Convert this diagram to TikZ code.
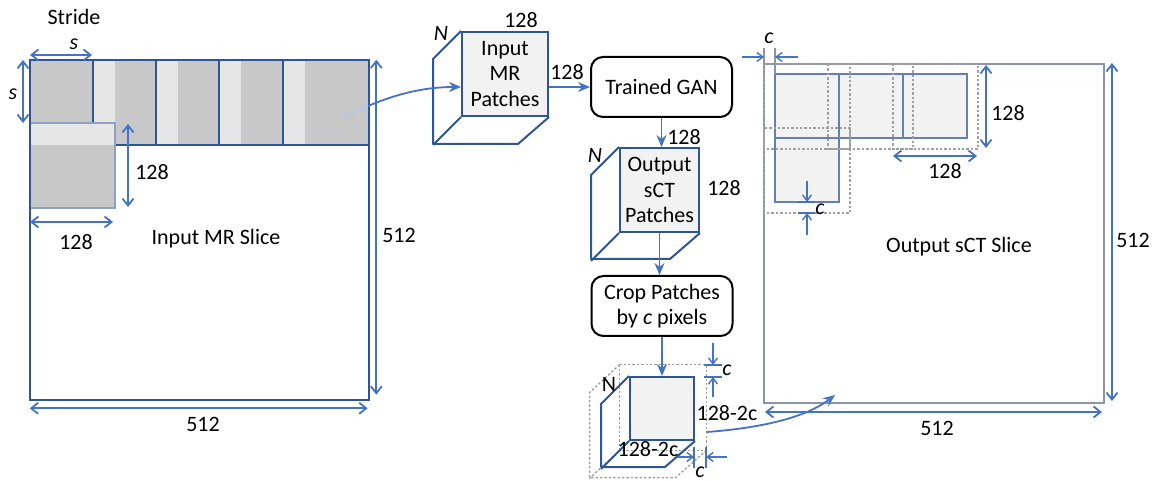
\documentclass[tikz,border=0pt]{standalone}
\usepackage{fontspec}
\setmainfont{Carlito}
\usetikzlibrary{arrows.meta,fit,calc}
\definecolor{arrblue}{HTML}{4472C4}
\definecolor{boxblue}{HTML}{2F5597}
\definecolor{patchdark}{HTML}{C8C8C8}
\definecolor{patchlight}{HTML}{E6E6E6}
\definecolor{facefill}{HTML}{F2F2F2}
\definecolor{slicegray}{HTML}{8C95A6}
\definecolor{dotgray}{HTML}{A0A0A0}
\definecolor{faintblue}{HTML}{B4C7E7}
\begin{document}
\begin{tikzpicture}[x=0.5pt,y=-0.5pt,
  font=\fontsize{11}{12.8}\selectfont,
  flow/.style={arrblue, line width=0.9pt, -{Stealth[length=6pt,width=5pt]}},
  dim/.style={arrblue, line width=0.9pt, {Straight Barb[length=3.5pt,width=5.5pt]}-{Straight Barb[length=3.5pt,width=5.5pt]}},
  dimone/.style={arrblue, line width=0.7pt, -{Straight Barb[length=3pt,width=4.5pt]}},
  tickline/.style={arrblue, line width=0.7pt},
  cubeface/.style={draw=boxblue, fill=facefill, line width=1pt, inner sep=0pt},
  cubeedge/.style={boxblue, line width=1pt, line join=round},
  dotline/.style={dotgray, line width=0.7pt, dash pattern=on 1.2pt off 1pt},
  stepbox/.style={draw=black, line width=1pt, rounded corners=6pt, align=center,
                  minimum width=70.5pt, minimum height=30pt, inner sep=1pt},
  lbl/.style={inner sep=0pt},
  patchline/.style={boxblue, line width=0.7pt}]
\useasboundingbox (0,0) rectangle (1164,481);

% ---------- input MR slice with strided patches ----------
\fill[patchdark] (30,60) rectangle (369,145);
\foreach \a in {93,156,219,283} \fill[patchlight] (\a,60) rectangle ({\a+22},145);
\draw[patchline] (30,60) rectangle (369,145);
\foreach \a in {156,219,283} \draw[patchline] (\a,60) -- (\a,145);
\draw[patchline] (93,60) -- (93,123);
\fill[patchdark] (30,123) rectangle (115,208);
\fill[patchlight] (30,123) rectangle (115,145);
\draw[boxblue!55, line width=0.7pt] (30,123) rectangle (115,208);
\node[fit={(30,60) (369,400)}, inner sep=0pt, draw=boxblue, line width=1.3pt] (mrslice) {};

\node[lbl] (stride) at (74,17) {Stride};
\draw[dim] (30,55) -- (92,55);
\node[lbl] (sh) at (74,44) {\itshape s};
\draw[dim] (23,60) -- (23,123);
\node[lbl] (sv) at (13,94) {\itshape s};
\draw[dim] (128,124) -- (128,207);
\node[lbl] (pv) at (152,172) {128};
\draw[dim] (30,222) -- (113,222);
\node[lbl] (ph) at (76,242) {128};
\node[lbl] (mrname) at (216,239) {Input MR Slice};
\draw[dim] (mrslice.north east) ++(6,1) -- ++(0,335);
\node[lbl] (mrh) at (399,235) {512};
\draw[dim] (mrslice.south west) ++(1,7) -- ++(338,0);
\node[lbl] (mrw) at (203,424) {512};

% ---------- input patch stack ----------
\node[cubeface, minimum width=43pt, minimum height=42pt] (inface) at (505,74) {};
\draw[cubeedge] (inface.north west) -- ++(-28,28) -- ++(0,85) -- ++(85,0) -- (inface.south east);
\draw[cubeedge] (inface.south west) -- ++(-28,28);
\node[lbl, align=center] (intext) at (inface.center) {Input\\MR\\Patches};
\node[lbl] (inN) at (441,33) {\itshape N};
\node[lbl] (intop) at (521,20) {128};
\node[lbl] (inside) at (567,72) {128};

% ---------- network ----------
\node[stepbox] (gan) at (661.5,87) {Trained GAN};

% ---------- output patch stack ----------
\node[cubeface, minimum width=39.5pt, minimum height=42pt] (outface) at (659.5,190) {};
\draw[cubeedge] (outface.north west) -- ++(-28,28) -- ++(0,84) -- ++(79,0) -- (outface.south east);
\draw[cubeedge] (outface.south west) -- ++(-28,28);
\node[lbl, align=center] (outtext) at (outface.center) {Output\\sCT\\Patches};
\node[lbl] (outN) at (595,155) {\itshape N};
\node[lbl] (outtop) at (684,137) {128};
\node[lbl] (outside) at (724,188) {128};

\node[stepbox] (crop) at (662,306) {Crop Patches\\by \textit{c} pixels};

% ---------- cropped patch stack ----------
\node[fit={(620,365) (706,450)}, inner sep=0pt] (cdot) {};
\draw[dotline] (cdot.north west) rectangle (cdot.south east);
\draw[dotline] (cdot.north west) -- ++(-30,28) -- ++(0,85) -- ++(86,0) -- (cdot.south east);
\draw[dotline] (cdot.south west) -- ++(-30,28);
\node[cubeface, minimum width=32pt, minimum height=31.5pt] (cface) at (662,408.5) {};
\draw[cubeedge] (cface.north west) -- ++(-28,28) -- ++(0,63) -- ++(64,0) -- (cface.south east);
\draw[cubeedge] (cface.south west) -- ++(-28,28);
\node[lbl] (cN) at (609,384) {N};
\node[lbl] (cside) at (727,413) {128-2c};
\node[lbl] (cbot) at (648,449) {128-2c};
% crop margin marks
\draw[tickline] (704,365) -- (722,365);
\draw[tickline] (704,377) -- (722,377);
\draw[dimone] (713,343) -- (713,365);
\draw[dimone] (713,397) -- (713,377);
\node[lbl] (ctop) at (727,370) {\itshape c};
\draw[tickline] (694,447) -- (694,468);
\draw[tickline] (706,447) -- (706,468);
\draw[dimone] (677,457) -- (694,457);
\draw[dimone] (727,457) -- (706,457);
\node[lbl] (cbc) at (700,472) {\itshape c};

% ---------- output sCT slice ----------
\node[fit={(764,64) (1104,403)}, inner sep=0pt, draw=slicegray, line width=1pt] (sctslice) {};
\fill[facefill] (775,74) rectangle (967,138);
\fill[facefill] (775,138) rectangle (839,202);
\draw[patchline, boxblue!75] (775,74) rectangle (967,138);
\draw[patchline, boxblue!75] (839,74) -- (839,138) (903,74) -- (903,138);
\draw[patchline, boxblue!75] (775,138) rectangle (839,202);
\draw[dotline] (764,64) rectangle (850,149);
\draw[dotline] (828,64) rectangle (913,149);
\draw[dotline] (893,64) rectangle (978,149);
\draw[dotline] (764,128) rectangle (850,213);
% crop margin marks on the slice
\draw[slicegray, line width=0.7pt] (764,48) -- (764,64);
\draw[slicegray, line width=0.7pt] (775,48) -- (775,74);
\draw[dimone] (742,57) -- (764,57);
\draw[dimone] (798,57) -- (775,57);
\node[lbl] (sc1) at (769,38) {\itshape c};
\draw[tickline] (798,202) -- (815,202);
\draw[tickline] (798,213) -- (815,213);
\draw[dimone] (807,181) -- (807,202);
\draw[dimone] (807,235) -- (807,213);
\node[lbl] (sc2) at (820,209) {\itshape c};
\draw[dim] (986,65) -- (986,148);
\node[lbl] (sv128) at (1008,113) {128};
\draw[dim] (893,156) -- (977,156);
\node[lbl] (sh128) at (945,171) {128};
\node[lbl] (sctname) at (959,247) {Output sCT Slice};
\draw[dim] (sctslice.north east) ++(7,0) -- ++(0,338);
\node[lbl] (sh512) at (1133,240) {512};
\draw[dim] (sctslice.south west) ++(2,8) -- ++(337,0);
\node[lbl] (sw512) at (937,428) {512};

% ---------- flow arrows ----------
\coordinate (patchpick) at (343,118);
\begin{scope}
  \clip (30,60) rectangle (368,145);
  \draw[faintblue, line width=0.8pt] (patchpick) .. controls (385,96) and (420,87) .. (inface.west |- gan.west);
\end{scope}
\begin{scope}
  \clip (368,0) rectangle (480,200);
  \draw[flow] (patchpick) .. controls (385,96) and (420,87) .. (inface.west |- gan.west);
\end{scope}
\draw[flow] (inface.east |- gan.west) -- (gan.west);
\draw[flow] (gan.south) -- (gan.south |- outface.north);
\draw[flow] (outface.south) -- (outface.south |- crop.north);
\draw[flow] (crop.south) -- (crop.south |- cface.north);
\coordinate (cout) at (707,432);
\coordinate (sctin) at (835,395);
\draw[flow] (cout) .. controls (760,428) and (805,418) .. (sctin);
\end{tikzpicture}
\end{document}
